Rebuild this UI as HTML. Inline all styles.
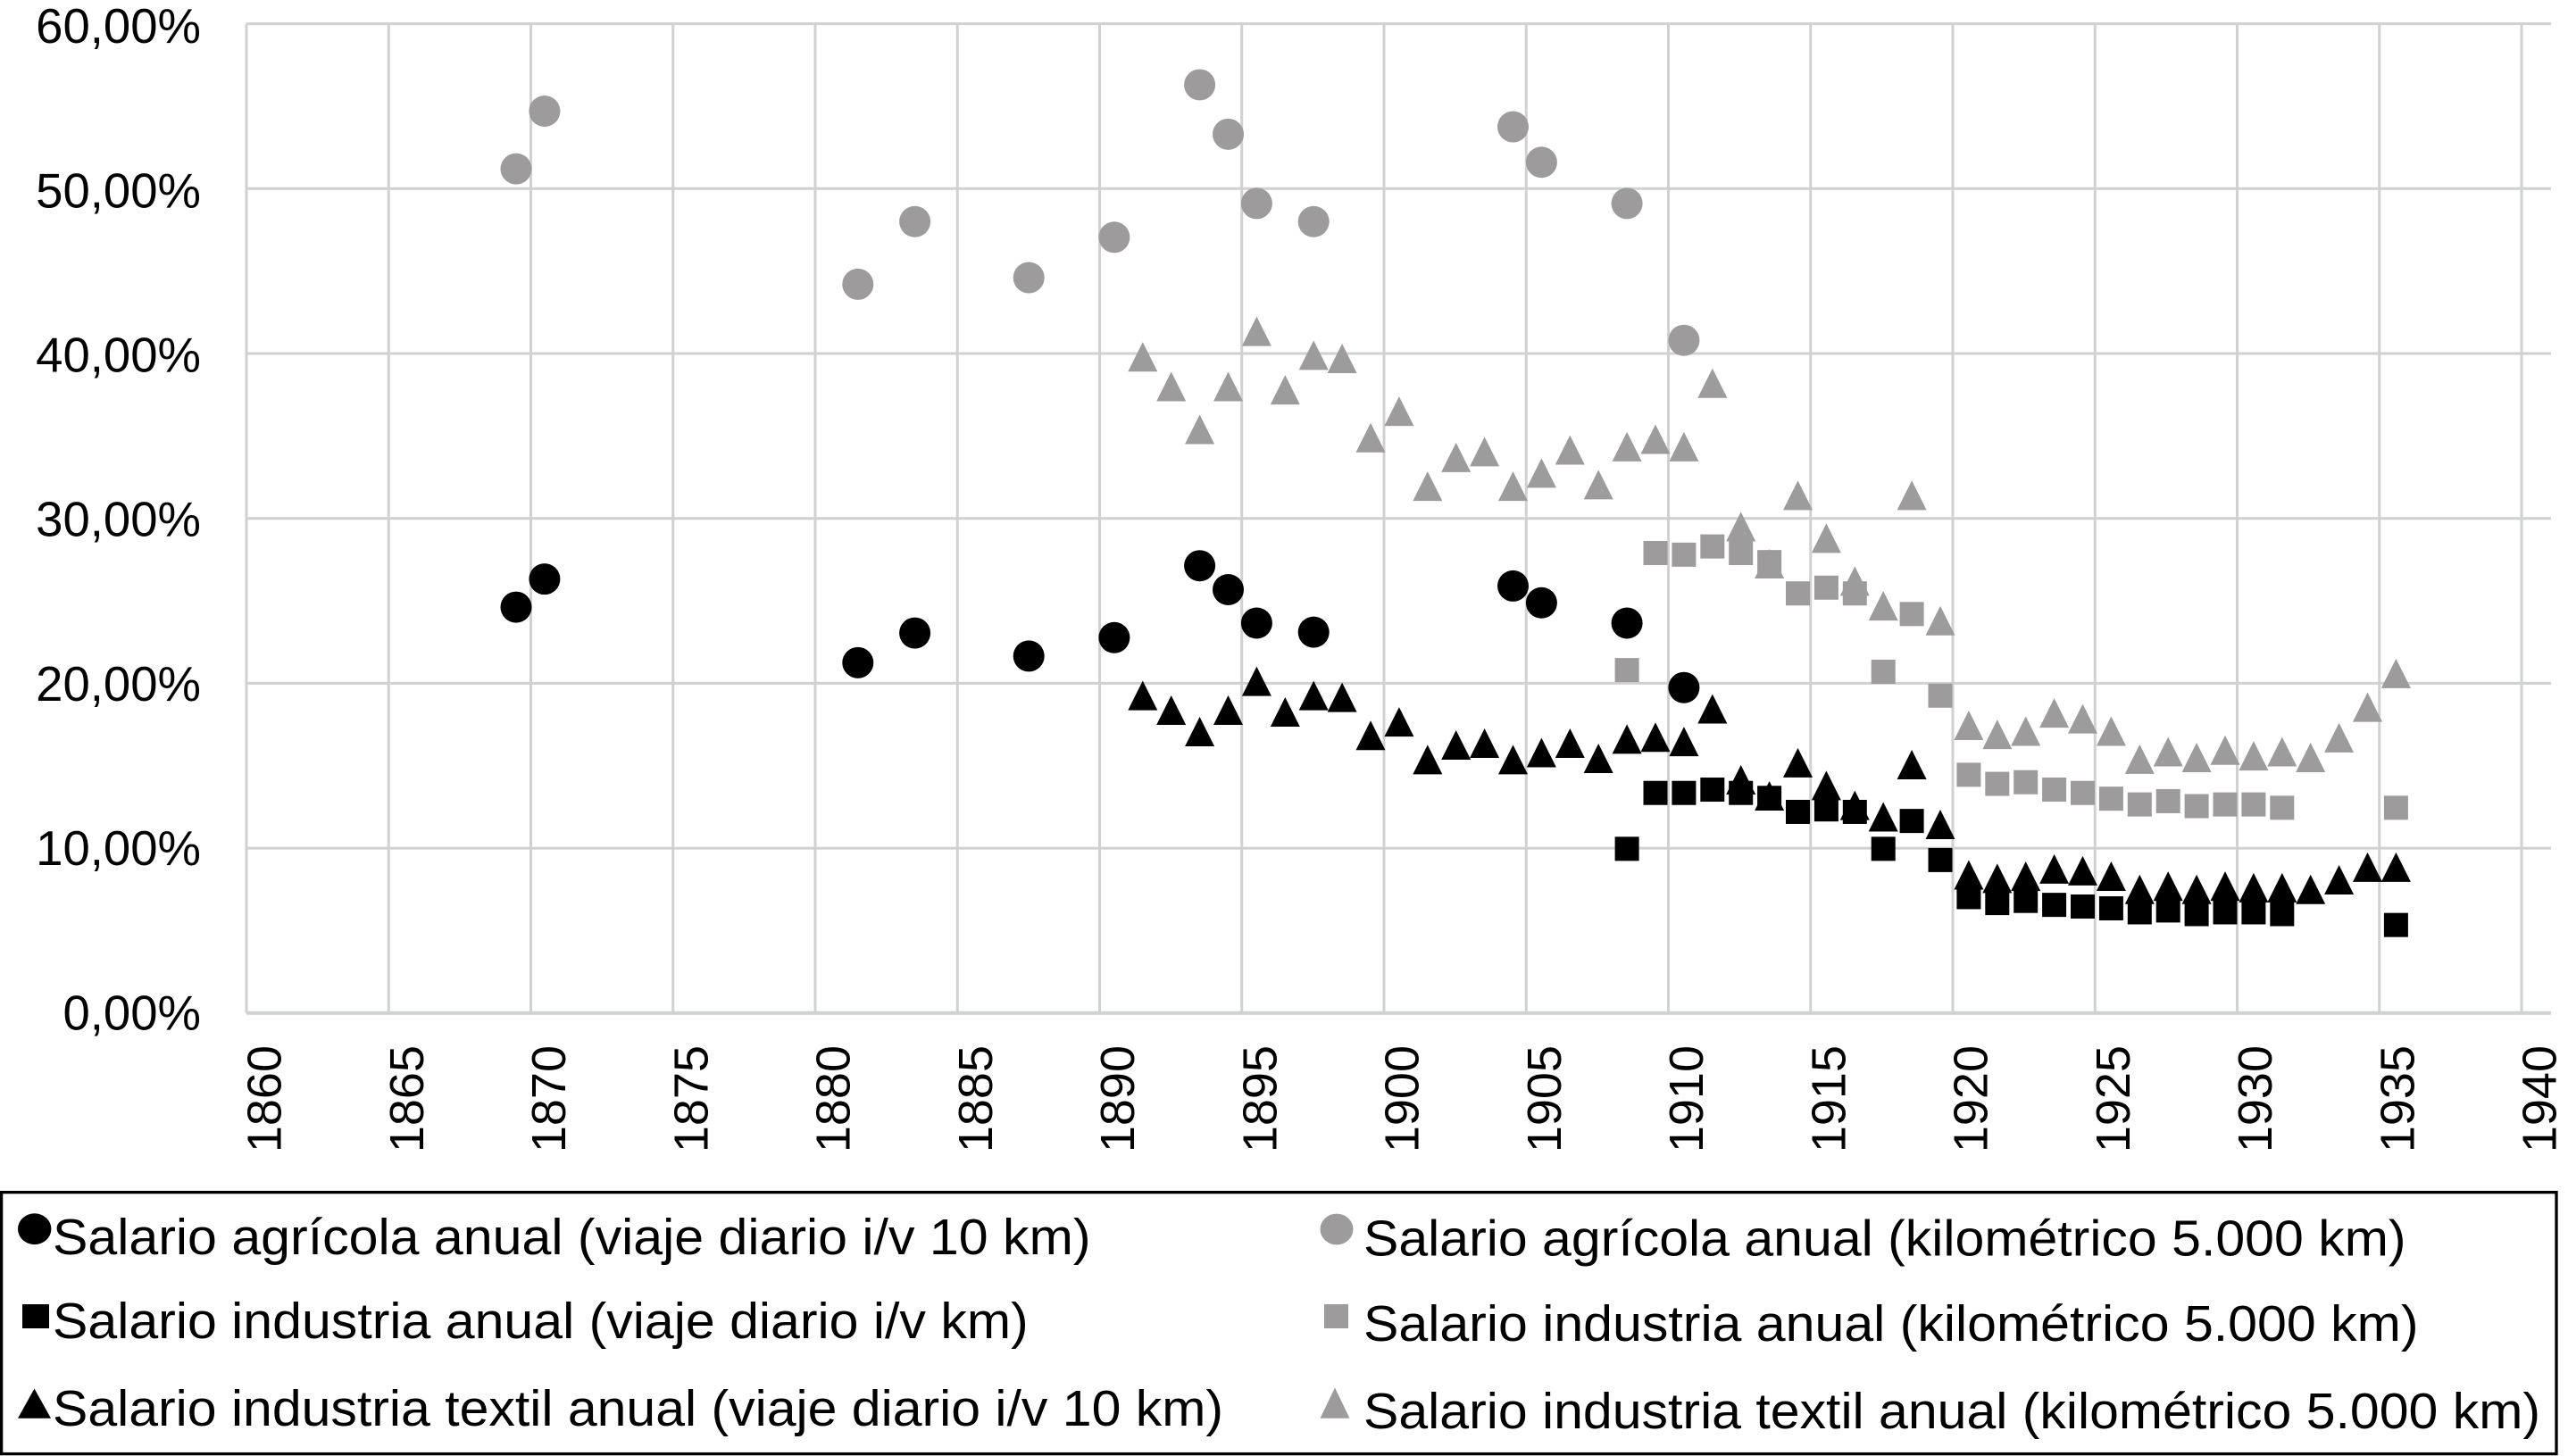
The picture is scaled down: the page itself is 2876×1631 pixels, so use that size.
<!DOCTYPE html>
<html lang="es">
<head>
<meta charset="utf-8">
<title>Salarios anuales y coste del transporte</title>
<style>
html,body{margin:0;padding:0;background:#fff;width:2876px;height:1631px;overflow:hidden}
svg{display:block;font-family:"Liberation Sans",Arial,sans-serif}
text{fill:#000}
</style>
</head>
<body>
<svg id="chart" width="2876" height="1631" viewBox="0 0 2876 1631" xmlns="http://www.w3.org/2000/svg">
  <rect x="0" y="0" width="2876" height="1631" fill="#ffffff"/>
  <g id="grid"></g>
  <g id="ylabels"></g>
  <g id="xlabels"></g>
  <g id="marks"></g>
  <g>
    <rect x="1.6" y="1335.6" width="2861.4" height="293" fill="none" stroke="#000" stroke-width="3.3"/>
    <g>
      <ellipse cx="38.7" cy="1376.7" rx="18.7" ry="17.4" fill="#000"/>
      <text x="59" y="1405" font-size="57" textLength="1162.5" lengthAdjust="spacingAndGlyphs">Salario agrícola anual (viaje diario i/v 10 km)</text>
    </g>
    <g>
      <rect x="25" y="1461" width="30" height="27" fill="#000"/>
      <text x="59" y="1499" font-size="57" textLength="1092.7" lengthAdjust="spacingAndGlyphs">Salario industria anual (viaje diario i/v km)</text>
    </g>
    <g>
      <polygon points="38.5,1555.5 57,1588.7 20,1588.7" fill="#000"/>
      <text x="59" y="1597" font-size="57" textLength="1311" lengthAdjust="spacingAndGlyphs">Salario industria textil anual (viaje diario i/v 10 km)</text>
    </g>
    <g>
      <ellipse cx="1497" cy="1377" rx="18.5" ry="17.4" fill="#9d9b9c"/>
      <text x="1527" y="1406.5" font-size="57" textLength="1167.5" lengthAdjust="spacingAndGlyphs">Salario agrícola anual (kilométrico 5.000 km)</text>
    </g>
    <g>
      <rect x="1483" y="1461" width="27" height="27" fill="#9d9b9c"/>
      <text x="1527" y="1502" font-size="57" textLength="1181.5" lengthAdjust="spacingAndGlyphs">Salario industria anual (kilométrico 5.000 km)</text>
    </g>
    <g>
      <polygon points="1495,1554.5 1511.5,1588.7 1478.5,1588.7" fill="#9d9b9c"/>
      <text x="1527" y="1600" font-size="57" textLength="1318" lengthAdjust="spacingAndGlyphs">Salario industria textil anual (kilométrico 5.000 km)</text>
    </g>
  </g>
</svg>
<script>
const xTickLabels = ["1860","1865","1870","1875","1880","1885","1890","1895","1900","1905","1910","1915","1920","1925","1930","1935","1940"];
const yTickValues = [0,10,20,30,40,50,60];
const yTickLabels = ["0,00%","10,00%","20,00%","30,00%","40,00%","50,00%","60,00%"];

const agricolaYears = [1869,1870,1881,1883,1887,1890,1893,1894,1895,1897,1904,1905,1908,1910];
const agricolaDiario = [24.62,26.32,21.25,23.05,21.65,22.77,27.13,25.68,23.65,23.1,25.9,24.88,23.65,19.74];
const agricolaKm = [51.2,54.7,44.2,48.0,44.6,47.05,56.3,53.3,49.1,48.0,53.75,51.6,49.1,40.8];

const industriaYears = [1908,1909,1910,1911,1912,1913,1914,1915,1916,1917,1918,1919,1920,1921,1922,1923,1924,1925,1926,1927,1928,1929,1930,1931,1935];
const industriaDiario = [9.96,13.35,13.35,13.55,13.35,13.05,12.2,12.35,12.2,9.96,11.65,9.28,7.03,6.67,6.8,6.56,6.46,6.35,6.11,6.22,6.0,6.11,6.11,6.0,5.34];
const industriaKm = [20.8,27.9,27.8,28.3,27.9,27.35,25.45,25.8,25.45,20.7,24.2,19.25,14.45,13.9,14.0,13.55,13.35,13.0,12.65,12.85,12.55,12.65,12.65,12.45,12.45];

const textilYears = [1891,1892,1893,1894,1895,1896,1897,1898,1899,1900,1901,1902,1903,1904,1905,1906,1907,1908,1909,1910,1911,1912,1913,1914,1915,1916,1917,1918,1919,1920,1921,1922,1923,1924,1925,1926,1927,1928,1929,1930,1931,1932,1933,1934,1935];
const textilDiario = [19.26,18.37,17.07,18.37,20.12,18.26,19.26,19.15,16.84,17.66,15.37,16.26,16.37,15.37,15.8,16.37,15.45,16.62,16.73,16.47,18.45,14.15,13.17,15.18,13.8,12.6,11.9,15.07,11.44,8.38,8.17,8.3,8.74,8.63,8.3,7.5,7.7,7.5,7.7,7.6,7.6,7.5,8.08,8.85,8.85];
const textilKm = [39.8,38.0,35.4,38.0,41.35,37.8,39.9,39.7,34.9,36.5,31.95,33.7,34.05,31.95,32.75,34.15,32.05,34.35,34.8,34.35,38.2,29.5,27.25,31.4,28.8,26.2,24.7,31.4,23.8,17.45,16.9,17.1,18.2,17.85,17.1,15.4,15.85,15.5,15.95,15.6,15.85,15.5,16.7,18.55,20.6];

const SVGNS = "http://www.w3.org/2000/svg";
const BLACK = "#000000";
const GRAY = "#9d9b9c";
const GRID = "#d0d1d1";

function xScale(year){ return 276 + (year - 1860) * (2824 - 276) / 80; }
function yScale(v){ return 1134.8 - v * 18.47; }
// Annual points sit mid-way between yearly category boundaries.
function xPoint(year){ return 578 + (year - 1869) * 31.9; }

function make(tag, attrs, parent){
  const el = document.createElementNS(SVGNS, tag);
  for (const k in attrs) el.setAttribute(k, attrs[k]);
  parent.appendChild(el);
  return el;
}

const gridG = document.getElementById("grid");
yTickValues.forEach(function(v){
  const line = make("line", {x1:276, x2:2857, y1:yScale(v), y2:yScale(v), stroke:GRID, "stroke-width": v === 0 ? 4 : 3}, gridG);
  
  
});
xTickLabels.forEach(function(lbl){
  const x = xScale(+lbl);
  const line = make("line", {x1:x, x2:x, y1:yScale(60), y2:yScale(0), stroke:GRID, "stroke-width":3}, gridG);
  
  
});

const yG = document.getElementById("ylabels");
yTickValues.forEach(function(v, i){
  const t = make("text", {x:225, y:yScale(v) + 18.5 + 3 * v / 60, "font-size":54.5, "text-anchor":"end"}, yG);
  t.textContent = yTickLabels[i];
  
  
});

const xG = document.getElementById("xlabels");
xTickLabels.forEach(function(lbl){
  const px = xScale(+lbl) + 38.5;
  const t = make("text", {x:0, y:0, "font-size":54, "text-anchor":"end", transform:"translate(" + px + " 1171) rotate(-90)"}, xG);
  t.textContent = lbl;
  
  
});

function drawCircles(years, values, color, name){
  const g = make("g", {}, document.getElementById("marks"));
  
  
  years.forEach(function(yr, i){
    const c = make("ellipse", {cx:xPoint(yr), cy:yScale(values[i]), rx:17.5, ry:17.5, fill:color}, g);
    
    
  });
}
function drawSquares(years, values, color, name){
  const g = make("g", {}, document.getElementById("marks"));
  
  
  years.forEach(function(yr, i){
    const r = make("rect", {x:xPoint(yr) - 13.5, y:yScale(values[i]) - 13.5, width:27, height:27, fill:color}, g);
    
    
  });
}
function drawTriangles(years, values, color, name){
  const g = make("g", {}, document.getElementById("marks"));
  
  
  years.forEach(function(yr, i){
    const x = xPoint(yr), y = yScale(values[i]);
    const pts = x + "," + (y - 16.5) + " " + (x + 16.5) + "," + (y + 16.5) + " " + (x - 16.5) + "," + (y + 16.5);
    const p = make("polygon", {points:pts, fill:color}, g);
    
    
  });
}

drawCircles(agricolaYears, agricolaKm, GRAY, "series-agricola-kilometrico");
drawSquares(industriaYears, industriaKm, GRAY, "series-industria-kilometrico");
drawTriangles(textilYears, textilKm, GRAY, "series-textil-kilometrico");
drawCircles(agricolaYears, agricolaDiario, BLACK, "series-agricola-diario");
drawTriangles(textilYears, textilDiario, BLACK, "series-textil-diario");
drawSquares(industriaYears, industriaDiario, BLACK, "series-industria-diario");
</script>
</body>
</html>
